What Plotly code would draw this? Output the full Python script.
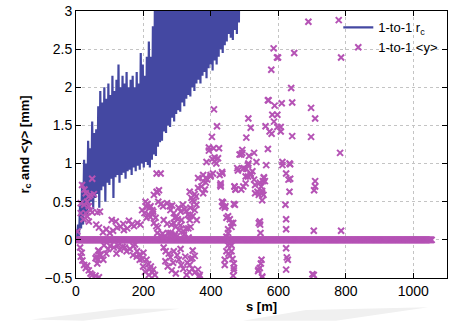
import numpy as np
import plotly.graph_objects as go

# ---------------- data ----------------
# r_c (blue line): dense oscillation, peaks and troughs
rc_step = 6
rc_peaks = [0.05, 0.2, 0.45, 0.75, 1.05, 1.0, 1.3, 1.2, 1.55, 1.4, 1.45, 1.75, 1.95, 1.8,
            2.0, 1.85, 2.05, 1.9, 2.15, 1.95, 2.1, 2.3, 2.0, 2.15, 2.05, 2.2, 2.0, 2.1,
            2.15, 2.0, 2.2, 2.05, 2.45, 2.3, 2.15, 2.4, 2.6, 2.4, 2.8, 3.2, 3.3, 3.2,
            3.4, 3.3, 3.4, 3.5, 3.4, 3.5, 3.6, 3.5, 3.6, 3.7, 3.6, 3.7, 3.8, 3.7,
            3.8, 3.9, 3.8, 3.9, 4.0, 3.9, 4.0, 4.1, 4.0, 4.1, 4.2, 4.1, 4.2, 4.3,
            4.2, 4.3, 4.4, 4.3, 4.4, 4.5, 4.4, 4.5, 4.6, 4.5, 4.6, 4.6]
rc_troughs = [0.0, 0.05, 0.15, 0.2, 0.35, 0.3, 0.45, 0.5, 0.4, 0.55, 0.6, 0.42, 0.65, 0.7,
              0.5, 0.75, 0.72, 0.8, 0.55, 0.82, 0.85, 0.75, 0.85, 0.88, 0.8, 0.9, 0.92, 0.85,
              0.95, 0.9, 0.97, 0.92, 1.0, 0.95, 1.02, 0.98, 0.95, 1.05, 1.12, 1.1, 1.22, 1.28,
              1.3, 1.42, 1.4, 1.5, 1.48, 1.6, 1.55, 1.65, 1.7, 1.68, 1.8, 1.75, 1.85, 1.9,
              1.88, 2.0, 1.95, 2.05, 2.1, 2.05, 2.15, 2.2, 2.12, 2.25, 2.3, 2.22, 2.35, 2.3,
              2.4, 2.5, 2.45, 2.55, 2.6, 2.7, 2.65, 2.62, 2.75, 2.7, 2.85, 3.0]

# <y> (magenta crosses): scattered values
y_s = [4, 14, 24, 38, 29, 38, 43, 53, 33, 48, 14, 29, 33, 43, 48, 63, 71, 22, 38, 18, 25, 60,
       12, 17, 14, 19, 24, 29, 38, 43, 48, 58, 68, 33, 61, 66, 81, 66, 71, 63, 58, 73, 68,
       68, 80, 90, 100, 110, 122, 106, 132, 142, 152, 157, 165, 172, 182, 191, 140, 118,
       83, 95, 101, 112, 125, 130, 138, 145, 150, 160, 170, 181, 175, 90, 120,
       169, 180, 189, 187, 196,
       196, 206, 212, 210, 218, 226, 203, 216, 220, 228, 236, 209, 221, 229, 231, 241, 246,
       239, 251, 239, 231, 238, 243, 244, 252, 258, 241, 250, 262, 257,
       209, 214, 219, 226, 234, 199, 205, 216, 222, 229, 190, 200,
       270, 278, 280, 285, 290, 297, 304, 310, 317, 322, 327, 332, 339, 293, 302, 313,
       260, 270, 283, 296, 310, 326, 340, 290, 305, 319, 333, 273, 283, 293, 280, 300, 320, 334,
       260, 266, 275, 280, 290, 288, 300, 305, 312, 318, 324, 330, 336, 328, 265, 272, 284,
       296, 340, 346, 310,
       337, 345, 342, 350, 357, 352, 356, 362, 372, 377, 382, 362, 377, 385, 377, 385, 389,
       399, 399, 406, 387, 394, 404, 411, 416, 411, 421, 394, 408, 424, 409, 418, 403, 426,
       433, 434, 429, 429, 428, 433, 443, 434, 436, 441, 468, 470, 473, 471, 346, 352, 358,
       337, 337, 451, 461, 446, 456, 466, 451, 461, 446, 451,
       352, 345, 337, 345, 352, 365, 446, 461, 456, 441, 441, 468, 468, 466, 451, 461, 452,
       464, 468, 456, 362, 367,
       478, 498, 485, 493, 490, 493, 505, 511, 518, 513, 528, 511, 535, 510, 564, 569, 571,
       569, 579, 586, 596, 599, 582, 597, 587, 562, 597, 607, 574, 580, 607, 589, 610, 612,
       612, 633, 623, 630, 633, 621, 623, 623, 623, 625, 628, 623, 647, 638, 641, 641, 635,
       635,
       480, 495, 505, 518, 523, 503, 510, 557, 554, 470, 473, 490, 496, 503, 545, 549, 552,
       556, 545, 546, 547, 542, 550, 548, 541, 552, 545, 540, 552,
       518, 528, 531, 538, 542, 552, 557, 560, 552, 531,
       689, 779, 786, 697, 709, 697, 783, 709, 709, 706, 705, 786, 701, 705]
y_val = [0.11, 0.48, 0.46, 0.44, 0.61, 0.57, 0.59, 0.6, 0.5, 0.8, 0.35, 0.35, 0.31, 0.39,
         0.36, 0.36, 0.37, 0.27, 0.24, 0.72, 0.66, 0.2,
         -0.1, -0.17, -0.22, -0.27, -0.33, -0.37, -0.4, -0.44, -0.46, -0.47, -0.49, -0.34,
         -0.22, -0.26, -0.26, -0.14, -0.19, -0.31, -0.24, -0.2, -0.15,
         0.16, 0.1, 0.14, 0.09, 0.12, 0.16, 0.26, 0.17, 0.13, 0.15, 0.25, 0.2, 0.18, 0.22,
         0.2, 0.21, 0.24,
         -0.07, -0.12, -0.08, -0.1, -0.07, -0.13, -0.09, -0.1, -0.15, -0.12, -0.08, -0.15,
         -0.06, -0.18, -0.18,
         -0.2, -0.22, -0.26, -0.2, -0.25,
         0.39, 0.5, 0.47, 0.43, 0.42, 0.39, 0.35, 0.33, 0.3, 0.34, 0.29, 0.29, 0.44, 0.37,
         0.59, 0.62, 0.65, 0.63, 0.87, 0.87, 0.22, 0.18, 0.16, 0.5, 0.47, 0.44, 0.09, 0.06,
         0.04, 0.08,
         -0.26, -0.32, -0.38, -0.43, -0.46, -0.35, -0.42, -0.46, -0.35, -0.39, -0.2, -0.17,
         0.48, 0.44, 0.39, 0.45, 0.35, 0.3, 0.42, 0.37, 0.46, 0.4, 0.38, 0.33, 0.42, 0.29,
         0.27, 0.26,
         0.26, 0.21, 0.2, 0.17, 0.19, 0.15, 0.17, 0.22, 0.13, 0.11, 0.15, 0.09, 0.07, 0.06,
         0.09, 0.05, 0.07, 0.03,
         -0.1, -0.15, -0.18, -0.23, -0.15, -0.3, -0.2, -0.26, -0.33, -0.38, -0.22, -0.3,
         -0.42, -0.46, -0.28, -0.35, -0.4, -0.44, -0.25, -0.14, -0.12,
         0.63, 0.52, 0.55, 0.5, 0.46, 0.6, 0.57, 0.68, 0.7, 0.61, 0.66, 0.81, 0.77, 0.75,
         0.85, 0.81, 0.79, 0.83, 0.85, 0.87, 1.02, 1.17, 1.06, 1.08, 1.0, 1.03, 1.07, 1.21,
         1.2, 1.2, 1.71, 1.49, 1.35, 0.85, 0.89, 0.87, 0.74, 0.7, 0.72, 0.5, 0.44, 0.44,
         0.49, 0.42, 0.47, 0.7, 0.66, 0.46, 0.31, 0.39, 0.26, 0.26, 0.31, 0.31, 0.22, 0.29,
         0.27, 0.22, 0.14, 0.17, 0.04, 0.09,
         -0.21, -0.24, -0.33, -0.38, -0.43, -0.48, -0.15, -0.15, -0.21, -0.26, -0.33, -0.31,
         -0.37, -0.47, -0.07, -0.07, -0.18, -0.25, -0.4, -0.04, -0.39, -0.46,
         0.94, 0.94, 1.12, 1.18, 1.12, 1.14, 1.34, 1.59, 1.47, 1.1, 1.14, 1.0, 1.02, 0.98,
         0.98, 1.19, 1.83, 1.83, 2.23, 2.51, 2.39, 2.39, 1.64, 1.64, 1.55, 1.49, 1.48, 1.48,
         1.42, 1.39, 1.42, 1.76, 1.79, 1.02, 0.98, 1.0, 0.87, 0.79, 0.63, 0.46, 0.27, 0.14,
         -0.11, -0.23, -0.26, -0.39, 2.45, 1.99, 1.8, 1.36, 0.99, 0.8,
         0.91, 0.93, 0.93, 0.87, 0.9, 0.83, 0.83, 0.82, 0.77, 0.7, 0.66, 0.66, 0.7, 0.74,
         0.75, 0.7, 0.64, 0.59, 0.24, 0.2, 0.09, 0.22, -0.26, -0.31, -0.39, -0.49, -0.37,
         -0.41, -0.48,
         0.85, 0.79, 0.72, 0.63, 0.59, 0.61, 0.81, 0.77, 0.52, 0.61,
         2.86, 2.88, 2.39, 1.73, 1.59, 1.35, 1.14, 0.77, 0.7, 0.65, 0.12, 0.12, -0.45, -0.46]

# <y> values that sit on zero (dense band from s=0 to ~1055 m)
zero_s_end = 1055
zero_val = 0.0

x_ticks = [0, 200, 400, 600, 800, 1000]
y_ticks = [-0.5, 0, 0.5, 1, 1.5, 2, 2.5, 3]

# ---------------- build ----------------
peak_s = np.arange(len(rc_peaks)) * rc_step
trough_s = peak_s + rc_step / 2
rc_s = np.empty(2 * len(rc_peaks))
rc_v = np.empty(2 * len(rc_peaks))
rc_s[0::2] = peak_s
rc_s[1::2] = trough_s
rc_v[0::2] = rc_peaks
rc_v[1::2] = rc_troughs

zero_s = np.arange(0, zero_s_end + 0.1, 1.5)
all_s = np.concatenate([zero_s, np.array(y_s, dtype=float)])
all_v = np.concatenate([np.full(len(zero_s), zero_val), np.array(y_val, dtype=float)])

BLUE = "#4448a2"
MAG = "#b553b5"
FONT = "Liberation Sans, Arial, sans-serif"

fig = go.Figure()
fig.add_trace(go.Scatter(x=rc_s, y=rc_v, mode="lines", name="1-to-1 r<sub>c</sub>",
                         line=dict(color=BLUE, width=2.2)))
fig.add_trace(go.Scatter(x=all_s, y=all_v, mode="markers", name="1-to-1 &lt;y&gt;",
                         marker=dict(symbol="x-thin", size=6, color=MAG,
                                     line=dict(color=MAG, width=2))))

# faint decorative grey wedges below the chart (slide reflection)
fig.add_shape(type="path", xref="paper", yref="paper",
              path="M -0.12 -0.155 L 0.12 -0.115 L 0.28 -0.115 L 0.02 -0.16 Z",
              fillcolor="#f0f0f0", line=dict(width=0), layer="below")
fig.add_shape(type="path", xref="paper", yref="paper",
              path="M 0.45 -0.16 L 0.62 -0.12 L 0.95 -0.11 L 0.7 -0.16 Z",
              fillcolor="#f0f0f0", line=dict(width=0), layer="below")

axis_common = dict(showline=True, linecolor="black", linewidth=1, mirror="ticks",
                   ticks="inside", ticklen=5, tickcolor="black", automargin=False,
                   showgrid=True, gridcolor="#c4c4c4", griddash="dot", gridwidth=1,
                   zeroline=False, tickfont=dict(family=FONT, size=14, color="black"))

fig.update_xaxes(range=[0, 1100], tickvals=x_ticks, **axis_common,
                 title=dict(text="<b>s [m]</b>", font=dict(family=FONT, size=13, color="black"),
                            standoff=4))
fig.update_yaxes(range=[-0.5, 3], tickvals=y_ticks, **axis_common,
                 title=dict(text="<b>r<sub>c</sub> and &lt;y&gt; [mm]</b>",
                            font=dict(family=FONT, size=13, color="black"), standoff=12))

fig.update_layout(
    width=452, height=325,
    margin=dict(l=76, r=5, t=11, b=47),
    paper_bgcolor="white", plot_bgcolor="white",
    showlegend=True,
    legend=dict(x=0.99, y=0.995, xanchor="right", yanchor="top",
                bgcolor="rgba(255,255,255,0)", borderwidth=0,
                font=dict(family=FONT, size=13, color="black"),
                tracegroupgap=0, itemwidth=30),
)

fig.write_html("out.html", config={"displayModeBar": False},
               post_script="document.body.style.margin='0';document.body.style.overflow='hidden';")
